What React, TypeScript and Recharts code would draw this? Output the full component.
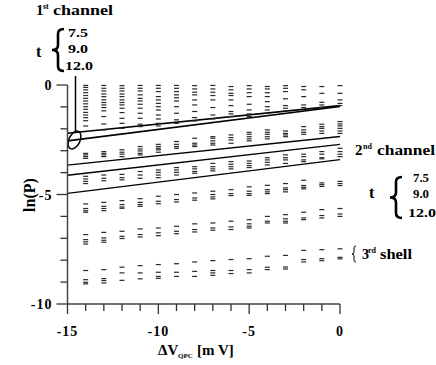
import React from "react";
import {
  ScatterChart,
  Scatter,
  XAxis,
  YAxis,
  ReferenceLine,
  Customized,
} from "recharts";

// columns of dashes, ΔV_QPC in mV
const columns = [-14, -13, -12, -11, -10, -9, -8, -7, -6, -5, -4, -3, -2, -1, 0];

// ln(P) values of each dash, one inner list per column
const band1: number[][] = [
  [-0.02, -0.11, -0.22, -0.35, -0.48, -0.61, -0.73, -0.86, -0.99, -1.11, -1.25, -1.37, -1.49, -1.63, -1.87],
  [-0.02, -0.15, -0.27, -0.41, -0.53, -0.68, -0.8, -0.91, -1.03, -1.18, -1.44, -1.78, -2.05],
  [-0.03, -0.15, -0.27, -0.41, -0.53, -0.68, -0.8, -0.91, -1.06, -1.26, -1.52, -1.75, -1.98],
  [-0.02, -0.15, -0.27, -0.45, -0.61, -0.73, -0.88, -1.06, -1.29, -1.52, -1.79, -1.9],
  [-0.02, -0.15, -0.3, -0.53, -0.68, -0.84, -0.99, -1.14, -1.37, -1.55, -1.75, -1.87],
  [-0.02, -0.15, -0.3, -0.45, -0.58, -0.73, -0.99, -1.29, -1.59, -1.75],
  [-0.03, -0.18, -0.33, -0.45, -0.68, -0.91, -1.21, -1.49, -1.64],
  [-0.02, -0.18, -0.33, -0.48, -0.68, -1.03, -1.37, -1.55],
  [-0.07, -0.22, -0.38, -0.48, -0.68, -0.94, -1.21, -1.32, -1.44],
  [-0.03, -0.18, -0.35, -0.53, -0.88, -1.14, -1.32, -1.44],
  [-0.07, -0.18, -0.35, -0.53, -0.76, -0.99, -1.14, -1.29],
  [-0.03, -0.15, -0.3, -0.63, -0.94, -1.06, -1.18],
  [-0.07, -0.22, -0.53, -0.91, -1.03],
  [-0.07, -0.38, -0.79, -0.91, -1.02],
  [-0.03, -0.38, -0.68, -0.84, -0.94],
];

const band2: number[][] = [
  [-3.12, -3.19, -3.27, -3.35],
  [-3.04, -3.12, -3.19, -3.27],
  [-2.96, -3.07, -3.16, -3.27],
  [-2.81, -2.92, -3.01, -3.12, -3.19],
  [-2.71, -2.81, -2.89, -2.96, -3.07],
  [-2.58, -2.71, -2.81, -2.89],
  [-2.43, -2.66, -2.74, -2.81],
  [-2.36, -2.43, -2.55, -2.66, -2.74],
  [-2.28, -2.4, -2.51, -2.66],
  [-2.16, -2.25, -2.36, -2.46, -2.55],
  [-2.05, -2.16, -2.25, -2.36, -2.46],
  [-2.1, -2.21, -2.28, -2.36],
  [-1.9, -2.05, -2.16, -2.25],
  [-1.79, -1.9, -1.98, -2.1, -2.21],
  [-1.67, -1.78, -1.87, -1.98, -2.1, -2.21],
];

const band3: number[][] = [
  [-4.17, -4.29, -4.4, -4.5],
  [-4.11, -4.26, -4.37],
  [-4.08, -4.23, -4.33],
  [-3.95, -4.11, -4.26],
  [-3.88, -3.99, -4.11, -4.23],
  [-3.77, -3.88, -3.99, -4.11],
  [-3.73, -3.83, -3.95, -4.03],
  [-3.58, -3.73, -3.83, -3.92],
  [-3.5, -3.62, -3.73, -3.83],
  [-3.47, -3.58, -3.68, -3.77],
  [-3.32, -3.42, -3.53, -3.65],
  [-3.19, -3.32, -3.42, -3.58],
  [-3.16, -3.27, -3.42, -3.5],
  [-3.04, -3.16, -3.32, -3.37],
  [-2.89, -3.04, -3.16, -3.27],
];

const band4: number[][] = [
  [-5.43, -5.64, -5.74, -5.81],
  [-5.36, -5.54, -5.64, -5.74],
  [-5.28, -5.46, -5.57, -5.63],
  [-5.19, -5.36, -5.46, -5.54],
  [-5.08, -5.31, -5.42],
  [-5.0, -5.23, -5.34],
  [-4.93, -5.16, -5.26],
  [-4.85, -5.0, -5.11, -5.2],
  [-4.78, -4.96, -5.05],
  [-4.65, -4.85, -4.96, -5.04],
  [-4.58, -4.78, -4.88, -4.96],
  [-4.5, -4.7, -4.78, -4.88],
  [-4.35, -4.59, -4.67, -4.74],
  [-4.47, -4.55, -4.63],
  [-4.4, -4.5, -4.59],
];

const band5: number[][] = [
  [-6.83, -7.06, -7.16, -7.26],
  [-6.73, -6.98, -7.09, -7.18],
  [-6.68, -6.91, -7.01],
  [-6.57, -6.83, -6.94],
  [-6.53, -6.75, -6.88],
  [-6.45, -6.68, -6.79],
  [-6.34, -6.6, -6.71],
  [-6.3, -6.53, -6.63],
  [-6.22, -6.48, -6.6],
  [-6.15, -6.34, -6.45, -6.53],
  [-6.0, -6.22, -6.3],
  [-5.92, -6.11, -6.22, -6.3],
  [-5.81, -6.07, -6.15],
  [-5.69, -5.96, -6.07],
  [-5.64, -5.89, -6.0],
];

// 3rd shell
const band6: number[][] = [
  [-8.47, -8.89, -9.01, -9.08],
  [-8.43, -8.84, -8.93, -9.04],
  [-8.32, -8.58, -8.92],
  [-8.25, -8.58, -8.85],
  [-8.2, -8.55, -8.74, -8.83],
  [-8.16, -8.55, -8.74],
  [-8.08, -8.51, -8.74],
  [-8.02, -8.47, -8.58, -8.69],
  [-7.97, -8.47, -8.61],
  [-7.93, -8.43, -8.58],
  [-7.82, -8.32, -8.43],
  [-7.78, -8.31, -8.4],
  [-7.55, -7.97, -8.08],
  [-7.52, -7.93, -8.02],
  [-7.48, -7.87, -7.94],
];

// straight fits: ln(P) at ΔV = -15 and at ΔV = 0
const fitStart = [-2.2, -2.55, -3.66, -4.12, -4.95];
const fitEnd = [-0.94, -0.98, -2.35, -2.71, -3.41];

const xTicks = [-15, -14, -13, -12, -11, -10, -9, -8, -7, -6, -5, -4, -3, -2, -1, 0];
const yTicks = [-10, -9, -8, -7, -6, -5, -4, -3, -2, -1, 0];

const FONT = '"Liberation Serif", "Times New Roman", serif';

const bands = [band1, band2, band3, band4, band5, band6];
const toPoints = (band: number[][]) =>
  band.flatMap((vals, i) => vals.map((y) => ({ x: columns[i], y })));

const Dash = (props: any) => {
  const { cx, cy } = props;
  if (cx == null || cy == null) return null;
  return <rect x={cx - 2.5} y={cy - 0.6} width={5} height={1.2} fill="#2a2a2a" />;
};

const XTick = (props: any) => {
  const { x, y, payload } = props;
  const major = payload.value % 5 === 0;
  return (
    <g>
      <line x1={x} x2={x} y1={y} y2={y + (major ? 10 : 7)} stroke="#333" strokeWidth={1.3} />
      {major && (
        <text
          x={x}
          y={y + 32}
          textAnchor="middle"
          fontFamily={FONT}
          fontWeight="bold"
          fontSize={14}
          letterSpacing={1}
          fill="#000"
        >
          {payload.value}
        </text>
      )}
    </g>
  );
};

const YTick = (props: any) => {
  const { x, y, payload } = props;
  const major = payload.value % 5 === 0;
  return (
    <g>
      <line x1={x - (major ? 11 : 7)} x2={x} y1={y} y2={y} stroke="#333" strokeWidth={1.3} />
      {major && (
        <text
          x={x - 15}
          y={y + 5}
          textAnchor="end"
          fontFamily={FONT}
          fontWeight="bold"
          fontSize={14}
          letterSpacing={1}
          fill="#000"
        >
          {payload.value}
        </text>
      )}
    </g>
  );
};

const brace = (x: number, top: number, bottom: number, w: number) => {
  const mid = (top + bottom) / 2;
  const c = x + w * 0.5;
  const r = x + w;
  const k = (bottom - top) * 0.12;
  return `M ${r} ${top} Q ${c} ${top} ${c} ${top + k} L ${c} ${mid - k} Q ${c} ${mid} ${x} ${mid} Q ${c} ${mid} ${c} ${mid + k} L ${c} ${bottom - k} Q ${c} ${bottom} ${r} ${bottom}`;
};

const T = (p: any) => (
  <text fontFamily={FONT} fontWeight="bold" fill="#000" {...p} />
);

const Annotations = () => (
  <g>
    {/* y-axis title */}
    <T x={0} y={0} fontSize={16} textAnchor="middle" transform="translate(35 195) rotate(-90)">
      ln(P)
    </T>
    {/* x-axis title */}
    <T x={158} y={355} fontSize={15}>ΔV</T>
    <T x={178} y={358} fontSize={7}>QPC</T>
    <T x={197} y={355} fontSize={15}>[m V]</T>

    {/* 1st channel */}
    <T x={36} y={15} fontSize={15}>1</T>
    <T x={43} y={9} fontSize={8}>st</T>
    <T x={53} y={15} fontSize={15} textLength={60} lengthAdjust="spacingAndGlyphs">channel</T>
    <T x={36} y={57} fontSize={16}>t</T>
    <path d={brace(52, 29, 71, 12)} fill="none" stroke="#000" strokeWidth={2.6} />
    <T x={68} y={37} fontSize={13} textLength={20} lengthAdjust="spacingAndGlyphs">7.5</T>
    <T x={68} y={53} fontSize={13} textLength={20} lengthAdjust="spacingAndGlyphs">9.0</T>
    <T x={65} y={70} fontSize={13} textLength={28} lengthAdjust="spacingAndGlyphs">12.0</T>
    <line x1={75.5} x2={75.5} y1={76} y2={131} stroke="#000" strokeWidth={1.5} />
    <ellipse cx={74.5} cy={140} rx={5.5} ry={9.5} transform="rotate(25 74.5 140)" fill="none" stroke="#000" strokeWidth={1.5} />

    {/* 2nd channel */}
    <T x={355} y={155} fontSize={15}>2</T>
    <T x={363} y={149} fontSize={8}>nd</T>
    <T x={377} y={155} fontSize={15} textLength={58} lengthAdjust="spacingAndGlyphs">channel</T>
    <T x={369} y={198} fontSize={16}>t</T>
    <path d={brace(390, 177, 218, 12)} fill="none" stroke="#000" strokeWidth={2.6} />
    <T x={413} y={182} fontSize={13} textLength={16} lengthAdjust="spacingAndGlyphs">7.5</T>
    <T x={413} y={198} fontSize={13} textLength={16} lengthAdjust="spacingAndGlyphs">9.0</T>
    <T x={408} y={217} fontSize={13} textLength={28} lengthAdjust="spacingAndGlyphs">12.0</T>

    {/* 3rd shell */}
    <path d={brace(352, 246, 262, 4)} fill="none" stroke="#000" strokeWidth={1} />
    <T x={362} y={259} fontSize={14}>3</T>
    <T x={368} y={253} fontSize={8}>rd</T>
    <T x={380} y={259} fontSize={14} textLength={32} lengthAdjust="spacingAndGlyphs">shell</T>
  </g>
);

export default function App() {
  return (
    <div style={{ position: "absolute", left: 0, top: 0, width: 436, height: 365, background: "#fff" }}>
      <ScatterChart width={436} height={365} margin={{ top: 85, right: 96, bottom: 31, left: 0 }}>
        <XAxis
          type="number"
          dataKey="x"
          domain={[-15, 0]}
          ticks={xTicks}
          interval={0}
          height={30}
          tickSize={0}
          tickMargin={0}
          tickLine={false}
          tick={<XTick />}
          axisLine={{ stroke: "#444", strokeWidth: 1.5 }}
        />
        <YAxis
          type="number"
          dataKey="y"
          domain={[-10, 0]}
          ticks={yTicks}
          interval={0}
          width={67.5}
          tickSize={0}
          tickMargin={0}
          tickLine={false}
          tick={<YTick />}
          axisLine={{ stroke: "#444", strokeWidth: 1.5 }}
        />
        {bands.map((band, i) => (
          <Scatter key={i} data={toPoints(band)} shape={<Dash />} isAnimationActive={false} />
        ))}
        {fitStart.map((y0, i) => (
          <ReferenceLine
            key={i}
            segment={[{ x: -15, y: y0 }, { x: 0, y: fitEnd[i] }]}
            stroke="#000"
            strokeWidth={i < 2 ? 1.6 : 1.4}
          />
        ))}
        <Customized component={Annotations} />
      </ScatterChart>
    </div>
  );
}
